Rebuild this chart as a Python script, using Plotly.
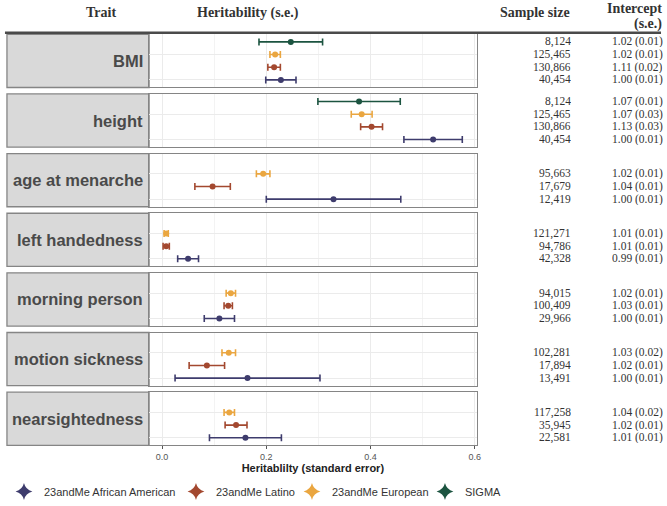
import plotly.graph_objects as go

# ---------------- data ----------------
traits = ["BMI", "height", "age at menarche", "left handedness",
          "morning person", "motion sickness", "nearsightedness"]
groups = ["23andMe African American", "23andMe Latino", "23andMe European", "SIGMA"]
colors = ["#3e3c6d", "#a3482f", "#eaa640", "#1c5440"]

h2_aa = [0.228, 0.520, 0.329, 0.050, 0.110, 0.164, 0.160]
se_aa = [0.029, 0.056, 0.129, 0.020, 0.029, 0.139, 0.069]
h2_lat = [0.215, 0.402, 0.097, 0.008, 0.127, 0.086, 0.142]
se_lat = [0.012, 0.021, 0.034, 0.006, 0.008, 0.034, 0.021]
h2_eur = [0.217, 0.383, 0.194, 0.008, 0.132, 0.128, 0.129]
se_eur = [0.010, 0.020, 0.013, 0.004, 0.009, 0.013, 0.010]
h2_sigma = [0.247, 0.378, None, None, None, None, None]
se_sigma = [0.061, 0.079, None, None, None, None, None]

n_aa = ["40,454", "40,454", "12,419", "42,328", "29,966", "13,491", "22,581"]
n_lat = ["130,866", "130,866", "17,679", "94,786", "100,409", "17,894", "35,945"]
n_eur = ["125,465", "125,465", "95,663", "121,271", "94,015", "102,281", "117,258"]
n_sigma = ["8,124", "8,124", None, None, None, None, None]

int_aa = ["1.00 (0.01)", "1.00 (0.01)", "1.00 (0.01)", "0.99 (0.01)", "1.00 (0.01)", "1.00 (0.01)", "1.01 (0.01)"]
int_lat = ["1.11 (0.02)", "1.13 (0.03)", "1.04 (0.01)", "1.01 (0.01)", "1.03 (0.01)", "1.02 (0.01)", "1.02 (0.01)"]
int_eur = ["1.02 (0.01)", "1.07 (0.03)", "1.02 (0.01)", "1.01 (0.01)", "1.02 (0.01)", "1.03 (0.02)", "1.04 (0.02)"]
int_sigma = ["1.02 (0.01)", "1.07 (0.01)", None, None, None, None, None]

x_ticks = [0.0, 0.2, 0.4, 0.6]
x_tick_labels = ["0.0", "0.2", "0.4", "0.6"]

# ---------------- layout helpers ----------------
W, H = 667, 506
def px(x):
    return x / W
def py(y):
    return 1 - y / H

series = [
    (h2_aa, se_aa, n_aa, int_aa),
    (h2_lat, se_lat, n_lat, int_lat),
    (h2_eur, se_eur, n_eur, int_eur),
    (h2_sigma, se_sigma, n_sigma, int_sigma),
]

fig = go.Figure()
shapes = []
annotations = []

PANEL_X0, PANEL_X1 = 150, 479.5
STRIP_X0 = 7
grid_col = "#ebebeb"
border_col = "#858585"
tbl_font = dict(family="Liberation Serif", size=11.5, color="#333")

for i, trait in enumerate(traits):
    top = 34.5 + 60 * i
    bot = top + 53.5
    xa = "x" if i == 0 else f"x{i+1}"
    ya = "y" if i == 0 else f"y{i+1}"
    xname = "xaxis" if i == 0 else f"xaxis{i+1}"
    yname = "yaxis" if i == 0 else f"yaxis{i+1}"
    last = (i == len(traits) - 1)
    fig.layout[xname] = dict(
        domain=[px(PANEL_X0), px(PANEL_X1)], anchor=ya,
        range=[-0.0248, 0.6035], tickvals=x_ticks, ticktext=x_tick_labels,
        showticklabels=last, ticks="outside" if last else "", ticklen=3,
        tickcolor="#555", tickfont=dict(family="Liberation Sans", size=9, color="#555"),
        showgrid=True, gridcolor=grid_col, gridwidth=1,
        minor=dict(dtick=0.1, tick0=0.1, showgrid=True, gridcolor="#f3f3f3", gridwidth=1),
        showline=True, mirror=True, linecolor=border_col, linewidth=1.3,
        zeroline=False, matches=None if i == 0 else "x",
        title=dict(text="<b>Heritablilty (standard error)</b>",
                   font=dict(family="Liberation Sans", size=11, color="#222"),
                   standoff=2) if last else None,
    )
    fig.layout[yname] = dict(
        domain=[py(bot), py(top)], anchor=xa,
        type="category", categoryorder="array", categoryarray=groups,
        range=[-0.6, 3.6], showticklabels=False, ticks="",
        showgrid=True, gridcolor=grid_col, gridwidth=1,
        showline=True, mirror=True, linecolor=border_col, linewidth=1.3,
        zeroline=False, fixedrange=True,
    )
    # strip box
    shapes.append(dict(type="rect", xref="paper", yref="paper",
                       x0=px(STRIP_X0), x1=px(PANEL_X0), y0=py(bot), y1=py(top),
                       fillcolor="#d9d9d9", line=dict(color=border_col, width=1.3),
                       layer="below"))
    annotations.append(dict(text=f"<b>{trait}</b>", xref="paper", yref="paper",
                            x=px(146), y=py((top + bot) / 2), xanchor="right", yanchor="middle",
                            showarrow=False,
                            font=dict(family="Liberation Sans", size=16.5, color="#4a4a4a")))
    for g, (h2, se, nn, ic) in enumerate(series):
        if h2[i] is None:
            continue
        fig.add_trace(go.Scatter(
            x=[h2[i]], y=[groups[g]], xaxis=xa, yaxis=ya, mode="markers",
            marker=dict(color=colors[g], size=6),
            error_x=dict(type="data", array=[se[i]], color=colors[g], thickness=1.6, width=3.5),
            showlegend=False, hoverinfo="skip"))
        annotations.append(dict(text=nn[i], xref="paper", yref=ya, x=px(575), y=groups[g],
                                xanchor="right", yanchor="middle", showarrow=False,
                                height=11, borderpad=0, font=tbl_font))
        annotations.append(dict(text=ic[i], xref="paper", yref=ya, x=px(668), y=groups[g],
                                xanchor="right", yanchor="middle", showarrow=False,
                                height=11, borderpad=0, font=tbl_font))

# legend-only traces
legend_widths = [127, 71, 88, 40]
for g in range(len(groups)):
    fig.add_trace(go.Scatter(x=[None], y=[None], mode="markers", name=groups[g],
                             marker=dict(color=colors[g], size=12, symbol="star-diamond"),
                             legendwidth=legend_widths[g], showlegend=True))

# header
hdr_font = dict(family="Liberation Serif", size=14, color="#333")
annotations += [
    dict(text="<b>Trait</b>", xref="paper", yref="paper", x=px(119), y=py(13),
         xanchor="right", yanchor="middle", showarrow=False, font=hdr_font),
    dict(text="<b>Heritability (s.e.)</b>", xref="paper", yref="paper", x=px(249), y=py(13),
         xanchor="center", yanchor="middle", showarrow=False, font=hdr_font),
    dict(text="<b>Sample size</b>", xref="paper", yref="paper", x=px(575), y=py(13),
         xanchor="right", yanchor="middle", showarrow=False, font=hdr_font),
    dict(text="<b>Intercept</b>", xref="paper", yref="paper", x=px(668), y=py(9),
         xanchor="right", yanchor="middle", showarrow=False, font=hdr_font),
    dict(text="<b>(s.e.)</b>", xref="paper", yref="paper", x=px(668), y=py(24),
         xanchor="right", yanchor="middle", showarrow=False, font=hdr_font),
]
shapes.append(dict(type="line", xref="paper", yref="paper", x0=px(5), x1=px(665),
                   y0=py(33), y1=py(33), line=dict(color="#4a4a4a", width=2.5)))

fig.update_layout(
    width=W, height=H, margin=dict(l=0, r=0, t=0, b=0),
    paper_bgcolor="white", plot_bgcolor="white",
    shapes=shapes, annotations=annotations,
    legend=dict(orientation="h", x=px(4), y=py(480), xanchor="left", yanchor="top",
                font=dict(family="Liberation Sans", size=11, color="#333"),
                itemsizing="constant", tracegroupgap=0, bgcolor="rgba(0,0,0,0)"),
)

fig.write_html("out.html", config={"displayModeBar": False},
               post_script="document.body.style.margin='0';")
